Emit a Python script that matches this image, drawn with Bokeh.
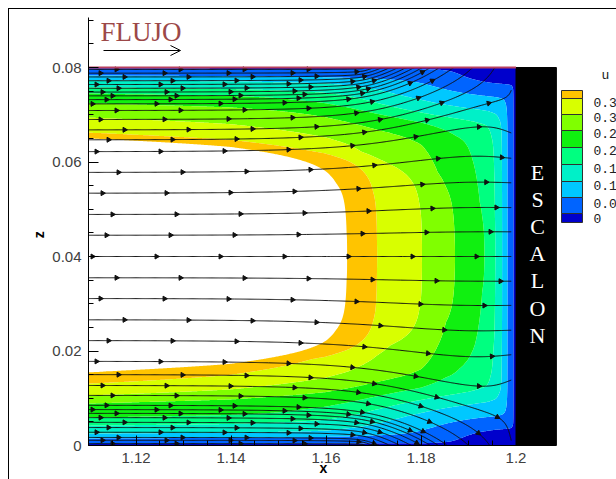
import numpy as np
from contourpy import contour_generator
from bokeh.plotting import figure
from bokeh.models import FixedTicker, Arrow, OpenHead
from bokeh.core.properties import value
from bokeh.embed import file_html
from bokeh.resources import INLINE

# ---------------- values ----------------
u_levels = [0.05, 0.10, 0.15, 0.20, 0.25, 0.30, 0.35, 0.40, 0.45]
band_colors = ["#0000CC", "#0064FF", "#00C8FF", "#00F0C8", "#00FF80",
               "#10F010", "#80FF00", "#D8FF00", "#FFC400"]

# centre line (z = 0.04): u along x (white core upstream, then band edges)
core_x = [1.110, 1.140, 1.155, 1.1645, 1.1708, 1.1803, 1.1873, 1.1936, 1.1957, 1.1971, 1.1982, 1.1995, 1.200]
core_u = [0.75, 0.58, 0.50, 0.45, 0.40, 0.35, 0.30, 0.25, 0.20, 0.15, 0.10, 0.05, 0.00]

# wall distance of each band edge at x = 1.11
top_wall_d = [0.0002, 0.0017, 0.0027, 0.0042, 0.0055, 0.0076, 0.0106, 0.0138, 0.0150]
bottom_wall_d = [0.0003, 0.0015, 0.0025, 0.0042, 0.0059, 0.0089, 0.0106, 0.0131, 0.0155]

# boundary-layer thickening along x
growth_x = [1.11, 1.14, 1.16, 1.18, 1.19, 1.20]
growth_f = [1.00, 1.08, 1.20, 1.45, 1.90, 2.60]

# slow corner zones at the foot of the step (elliptic distance, aspect x:z)
corner_r = [0.0, 0.0035, 0.0060, 0.0085, 0.0110, 0.0150, 0.0300]
corner_u = [0.0, 0.05, 0.10, 0.15, 0.22, 0.45, 3.00]
corner_aspect = 3.5

# stream traces: seed heights at x = 1.11
seed_z_bottom = [0.0004, 0.0011, 0.0017, 0.0028, 0.0038, 0.0049, 0.0059, 0.0068, 0.0076, 0.0085, 0.0106, 0.0127]
seed_z_core = [0.0150, 0.0178, 0.0222, 0.0266, 0.0311, 0.0355, 0.0400, 0.0445, 0.0489, 0.0534, 0.0578, 0.0622]
seed_d_top = [0.0004, 0.0012, 0.0020, 0.0028, 0.0036, 0.0044, 0.0052, 0.0060, 0.0068, 0.0077, 0.0091, 0.0110, 0.0132, 0.0153]
# where the flow leaves: along both walls near the step, and across the step face
wall_outlet_x = (1.168, 1.200)
face_outlet_z = (0.012, 0.068)
flux_share = {"bottom": 0.194, "top": 0.194, "face": 0.612}

x_ticks = [1.12, 1.14, 1.16, 1.18, 1.2]
x_tick_labels = ["1.12", "1.14", "1.16", "1.18", "1.2"]
z_ticks = [0, 0.02, 0.04, 0.06, 0.08]
z_tick_labels = ["0", "0.02", "0.04", "0.06", "0.08"]
legend_labels = ["0.3", "0.3", "0.2", "0.2", "0.1", "0.1", "0.0", "0"]

# ---------------- geometry ----------------
X0, X_STEP, X_END, H = 1.11, 1.2, 1.2085, 0.08
Z_AXIS_TOP = 0.0905
SX, SZ = 4750.0, 4725.0          # pixels per unit
W_FIG, H_FIG = 616, 479
LEFT, BOTTOM = 88, 34
FRAME_W, FRAME_H = W_FIG - LEFT, H_FIG - BOTTOM
ZPIX0 = FRAME_H                  # picture row of z = 0
NBSP = "\u00a0"


def px_x(px):
    return X0 + (px - LEFT) / SX


def px_z(py):
    return (ZPIX0 - py) / SZ


# ---------------- u field ----------------
P = 4.0
nx, nz = 451, 481
xg = np.linspace(X0, X_STEP, nx)
zg = np.linspace(0.0, H, nz)
XX, ZZ = np.meshgrid(xg, zg)
uc = np.interp(XX, core_x, core_u)
u0 = np.interp(X0, core_x, core_u)
lv = np.array(u_levels)
w_at_x0 = (lv ** -P - u0 ** -P) ** (-1.0 / P)
ext_d = [0.020, 0.028, 0.040]
ext_w = [0.80, 1.60, 6.0]


def wall(dist, wall_d):
    kd = [0.0] + list(wall_d) + ext_d
    kw = [0.0] + list(w_at_x0) + ext_w
    return np.interp(dist, kd, kw)


gf = np.interp(XX, growth_x, growth_f)
wb = wall(ZZ / gf, bottom_wall_d)
wt = wall((H - ZZ) / gf, top_wall_d)
dxs = (X_STEP - XX) / corner_aspect
kb = np.interp(np.hypot(dxs, ZZ), corner_r, corner_u)
kt = np.interp(np.hypot(dxs, H - ZZ), corner_r, corner_u)
eps = 1e-9
terms = [uc, wb, wt, kb, kt]
U = sum(np.maximum(t, eps) ** -P for t in terms) ** (-1.0 / P)

# ---------------- stream function (channel with outlets) ----------------
n_w, n_f = 40, 60
xs_w = np.linspace(wall_outlet_x[0], wall_outlet_x[1], n_w)
zs_f = np.linspace(face_outlet_z[0], face_outlet_z[1], n_f)
c_k = np.concatenate([2 * np.cosh(np.pi * (xs_w - X_STEP) / H),
                      -2 * np.cosh(np.pi * (xs_w - X_STEP) / H),
                      2 * np.cos(np.pi * zs_f / H)])
m_k = np.concatenate([np.full(n_w, flux_share["bottom"] / n_w),
                      np.full(n_w, flux_share["top"] / n_w),
                      np.full(n_f, flux_share["face"] / n_f)])


def arg(v):
    a = np.angle(v)
    return np.where(a > np.pi / 2, a - 2 * np.pi, a)


def stream_fn(xv, zv):
    s = 2 * np.cosh(np.pi * ((np.asarray(xv) - X_STEP) + 1j * np.asarray(zv)) / H)
    psi = np.zeros(np.shape(s))
    for c, m in zip(c_k, m_k):
        psi -= m * arg(s - c)
    return psi


PSI = stream_fn(XX, ZZ)
seeds = sorted(seed_z_bottom + seed_z_core + [H - d for d in seed_d_top])
cg = contour_generator(xg, zg, PSI, line_type="Separate")

segments = []
for z0 in seeds:
    lvl = float(stream_fn(X0 + 1e-9, z0))
    for ln in cg.lines(lvl):
        if ln.shape[0] < 2:
            continue
        if ln[0, 0] > ln[-1, 0]:
            ln = ln[::-1]
        keep = ln[:, 0] <= X_STEP - 0.001
        start = None
        for i, k in enumerate(list(keep) + [False]):
            if k and start is None:
                start = i
            elif not k and start is not None:
                if i - start > 1:
                    segments.append(ln[start:i])
                start = None

# arrows along the stream traces
spacing = 64.0
offsets = [24, 14, 30, 8, 20, 36, 12, 28, 4, 18]
ax_, az_, aa_ = [], [], []
for i, seg in enumerate(segments):
    px = (seg[:, 0] - X0) * SX
    pz = seg[:, 1] * SZ
    s = np.concatenate([[0.0], np.cumsum(np.hypot(np.diff(px), np.diff(pz)))])
    t = float(offsets[i % len(offsets)])
    while t < s[-1] - 5:
        x1 = np.interp(t - 3, s, px); z1 = np.interp(t - 3, s, pz)
        x2 = np.interp(t + 3, s, px); z2 = np.interp(t + 3, s, pz)
        ax_.append(np.interp(t, s, seg[:, 0]))
        az_.append(np.interp(t, s, seg[:, 1]))
        aa_.append(np.arctan2(z2 - z1, x2 - x1) - np.pi / 2)
        t += spacing

# ---------------- figure ----------------
p = figure(width=W_FIG, height=H_FIG,
           x_range=(X0, X0 + FRAME_W / SX), y_range=(0, FRAME_H / SZ),
           output_backend="svg", toolbar_location=None,
           min_border_left=LEFT, min_border_right=0, min_border_top=0, min_border_bottom=BOTTOM,
           background_fill_alpha=0, border_fill_alpha=0,
           outline_line_color=None,
           styles={"background-color": "white",
                   "box-shadow": "inset 8px 8px 0 0 #ffffff, inset 9px 9px 0 0 #000000"})
p.grid.visible = False

p.contour(xg, zg, U, levels=[-1.0] + u_levels, fill_color=band_colors, line_color=None)

p.multi_line([list(sg[:, 0]) for sg in segments], [list(sg[:, 1]) for sg in segments],
             line_color="#101010", line_width=1)
p.scatter(ax_, az_, marker="triangle", size=5, angle=aa_, color="#101010")

# step
p.quad(left=X_STEP, right=X_END, bottom=0, top=H, color="black")
# top wall
p.line([X0, X_STEP], [H, H], line_color="#B84060", line_width=2)

# ESCALON
letters = list("ESCALON")
p.text(x=[px_x(537)] * len(letters), y=[px_z(171.5 + 27.2 * i) for i in range(len(letters))],
       text=letters, text_color="white", text_font=value("Liberation Serif"),
       text_font_size=value("22px"), text_align="center", text_baseline="middle")

# FLUJO
p.text(x=[px_x(100)], y=[px_z(31)], text=["FLUJO"], text_font=value("Liberation Serif"),
       text_font_size=value("27px"), text_color="#9C4848", text_baseline="middle",
       text_align="left")
p.add_layout(Arrow(end=OpenHead(size=10, line_width=1), x_start=px_x(103), y_start=px_z(50),
                   x_end=px_x(180), y_end=px_z(50), line_width=1, line_color="black"))

# legend
sw_edges_px = [222, 213, 197, 181, 164, 147, 130, 114, 98, 90]
p.quad(left=[px_x(561)] * 9, right=[px_x(582)] * 9,
       bottom=[px_z(sw_edges_px[i]) for i in range(9)],
       top=[px_z(sw_edges_px[i + 1]) for i in range(9)],
       fill_color=band_colors, line_color="#303030", line_width=1)
lab_px = [102, 117, 133, 150, 168, 185, 203, 218]
p.text(x=[px_x(593)] * 8, y=[px_z(v) for v in lab_px], text=legend_labels,
       text_font=value("Liberation Mono"), text_font_size=value("13px"),
       text_color="#202020", text_baseline="middle", text_align="left")
p.text(x=[px_x(601)], y=[px_z(75)], text=["u"],
       text_font=value("Liberation Mono"), text_font_size=value("13px"),
       text_color="#202020", text_baseline="middle", text_align="left")

# axes
for ax in (p.xaxis, p.yaxis):
    ax.axis_line_color = "black"
    ax.major_tick_in = 10
    ax.major_tick_out = 0
    ax.minor_tick_in = 5
    ax.minor_tick_out = 0
    ax.major_tick_line_color = "black"
    ax.minor_tick_line_color = "black"
    ax.major_label_text_font = "Liberation Sans"
    ax.major_label_text_font_size = "15px"
    ax.major_label_text_color = "#404040"
    ax.major_label_standoff = 7
    ax.axis_label_text_font = "Liberation Sans"
    ax.axis_label_text_font_style = "bold"
    ax.axis_label_text_font_size = "14px"
    ax.axis_label_text_color = "black"

p.xaxis.ticker = FixedTicker(ticks=x_ticks, minor_ticks=list(np.round(np.arange(X0, X_END + 1e-6, 0.005), 4)))
p.xaxis.major_label_overrides = dict(zip(x_ticks, x_tick_labels))
p.xaxis.bounds = (X0, X_END)
p.xaxis.axis_label = "x" + NBSP * 15
p.xaxis.axis_label_standoff = -6
p.yaxis.ticker = FixedTicker(ticks=z_ticks, minor_ticks=list(np.round(np.arange(0, Z_AXIS_TOP + 1e-6, 0.005), 4)))
p.yaxis.major_label_overrides = dict(zip(z_ticks, z_tick_labels))
p.yaxis.bounds = (0, Z_AXIS_TOP)
p.yaxis.axis_label = "z" + NBSP * 6
p.yaxis.axis_label_standoff = 2

open("out.html", "w").write(file_html(p, INLINE))
